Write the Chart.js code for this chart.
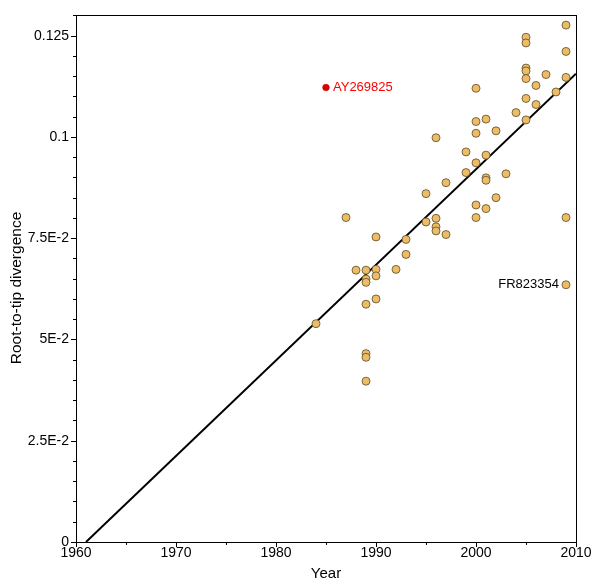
<!DOCTYPE html>
<html>
<head>
<meta charset="utf-8">
<script src="https://cdn.jsdelivr.net/npm/chart.js@4.4.1/dist/chart.umd.min.js"></script>
<style>
html,body{margin:0;padding:0;background:#fff;}
#wrap{width:600px;height:585px;position:relative;}
</style>
</head>
<body>
<div id="wrap"><canvas id="c" width="600" height="585"></canvas></div>
<script>
// ---- data ----
const years = [
  1984, 1987, 1988,
  1989, 1989, 1989, 1989, 1989, 1989, 1989,
  1990, 1990, 1990, 1990,
  1992, 1993, 1993,
  1995, 1995,
  1996, 1996, 1996, 1996,
  1997, 1997,
  1999, 1999,
  2000, 2000, 2000, 2000, 2000, 2000,
  2001, 2001, 2001, 2001, 2001,
  2002, 2002, 2003, 2004,
  2005, 2005, 2005, 2005, 2005, 2005, 2005,
  2006, 2006, 2007, 2008,
  2009, 2009, 2009, 2009, 2009
];
const divergence = [
  0.0539, 0.0801, 0.0671,
  0.0671, 0.0649, 0.0641, 0.0587, 0.0465, 0.0456, 0.0397,
  0.0753, 0.0673, 0.0657, 0.0600,
  0.0673, 0.0747, 0.0710,
  0.0860, 0.0790,
  0.0998, 0.0799, 0.0778, 0.0768,
  0.0887, 0.0759,
  0.0963, 0.0912,
  0.1120, 0.1038, 0.1009, 0.0936, 0.0832, 0.0801,
  0.1044, 0.0955, 0.0899, 0.0893, 0.0823,
  0.1015, 0.0850, 0.0909, 0.1060,
  0.1246, 0.1232, 0.1170, 0.1163, 0.1144, 0.1095, 0.1042,
  0.1127, 0.1080, 0.1154, 0.1111,
  0.1276, 0.1211, 0.1147, 0.0801, 0.0635
];
const outlierYears = [1985];
const outlierValues = [0.1122];
const labelNames = ['AY269825', 'FR823354'];
const labelYears = [1985, 2009];
const labelValues = [0.1122, 0.0635];
const fitYears = [1961, 2010];
const fitValues = [0, 0.1156];
const yTickValues = [0, 0.025, 0.05, 0.075, 0.1, 0.125];
const yTickLabels = ['0', '2.5E-2', '5E-2', '7.5E-2', '0.1', '0.125'];
const xTickLabels = ['1960', '1970', '1980', '1990', '2000', '2010'];
const yTitle = 'Root-to-tip divergence';
const xTitle = 'Year';

const FONT = 'Liberation Sans, Arial, sans-serif';

const pts = years.map((x, i) => ({x: x, y: divergence[i]}));
const red = outlierYears.map((x, i) => ({x: x, y: outlierValues[i]}));
const fit = fitYears.map((x, i) => ({x: x, y: fitValues[i]}));

function isMajorY(v){ return yTickValues.some(t => Math.abs(t - v) < 1e-6); }
function yLabel(v){
  const i = yTickValues.findIndex(t => Math.abs(t - v) < 1e-6);
  return i >= 0 ? yTickLabels[i] : '';
}
function xLabel(v){
  const i = xTickLabels.indexOf(String(Math.round(v)));
  return i >= 0 ? xTickLabels[i] : '';
}

const decor = {
  id: 'decor',
  afterDraw(chart){
    const ctx = chart.ctx;
    const a = chart.chartArea;
    const xs = chart.scales.x, ys = chart.scales.y;
    ctx.save();
    // frame
    ctx.strokeStyle = '#000';
    ctx.lineWidth = 1;
    ctx.strokeRect(Math.round(a.left) + 0.5, Math.round(a.top) + 0.5,
                   Math.round(a.right - a.left), Math.round(a.bottom - a.top));
    // tick marks from library ticks
    ctx.beginPath();
    ys.ticks.forEach((t, i) => {
      const y = Math.round(ys.getPixelForTick(i)) + 0.5;
      const len = isMajorY(t.value) ? 5 : 3;
      ctx.moveTo(a.left - len, y); ctx.lineTo(a.left + 1, y);
    });
    xs.ticks.forEach((t, i) => {
      const x = Math.round(xs.getPixelForTick(i)) + 0.5;
      const len = xLabel(t.value) ? 5 : 3;
      ctx.moveTo(x, a.bottom); ctx.lineTo(x, a.bottom + len);
    });
    ctx.stroke();
    // y axis title
    ctx.save();
    ctx.translate(17, 288);
    ctx.rotate(-Math.PI / 2);
    ctx.fillStyle = '#000';
    ctx.font = '15.5px ' + FONT;
    ctx.textAlign = 'center';
    ctx.textBaseline = 'middle';
    ctx.fillText(yTitle, 0, 0);
    ctx.restore();
    // annotations
    ctx.font = '13px ' + FONT;
    ctx.textBaseline = 'middle';
    labelNames.forEach((n, i) => {
      const px = xs.getPixelForValue(labelYears[i]);
      const py = ys.getPixelForValue(labelValues[i]);
      if (i === 0) {
        ctx.fillStyle = '#ff0000';
        ctx.textAlign = 'left';
        ctx.fillText(n, px + 7, py);
      } else {
        ctx.fillStyle = '#000';
        ctx.textAlign = 'right';
        ctx.fillText(n, px - 7, py);
      }
    });
    ctx.restore();
  }
};

new Chart(document.getElementById('c'), {
  type: 'scatter',
  data: {
    datasets: [
      {
        type: 'line',
        data: fit,
        borderColor: '#000',
        borderWidth: 2,
        pointRadius: 0,
        fill: false,
        order: 2
      },
      {
        data: pts,
        backgroundColor: '#EDBD66',
        borderColor: '#5b4a2e',
        borderWidth: 0.8,
        pointRadius: 4,
        order: 1
      },
      {
        data: red,
        backgroundColor: '#e00000',
        borderColor: '#b00000',
        borderWidth: 0.6,
        pointRadius: 3.3,
        order: 0
      }
    ]
  },
  options: {
    responsive: false,
    animation: false,
    layout: {padding: {left: 0, right: 24, top: 15, bottom: 0}},
    plugins: {legend: {display: false}, tooltip: {enabled: false}},
    scales: {
      x: {
        type: 'linear',
        min: 1960, max: 2010,
        afterFit(s){ s.height = 43; },
        border: {display: true, color: '#000', width: 1},
        grid: {display: true, drawOnChartArea: false, drawTicks: false},
        ticks: {
          stepSize: 5, autoSkip: false, maxRotation: 0, padding: 3,
          color: '#000', font: {family: FONT, size: 14},
          callback: v => xLabel(v)
        },
        title: {display: true, text: xTitle, color: '#000',
                font: {family: FONT, size: 15}, padding: {top: 0, bottom: 2}}
      },
      y: {
        type: 'linear',
        min: 0, max: 0.13,
        afterFit(s){ s.width = 76; },
        border: {display: true, color: '#000', width: 1},
        grid: {display: true, drawOnChartArea: false, drawTicks: false},
        ticks: {
          stepSize: 0.005, autoSkip: false, padding: 7,
          color: '#000', font: {family: FONT, size: 14},
          callback: v => yLabel(v)
        },
        title: {display: false}
      }
    }
  },
  plugins: [decor]
});
</script>
</body>
</html>
